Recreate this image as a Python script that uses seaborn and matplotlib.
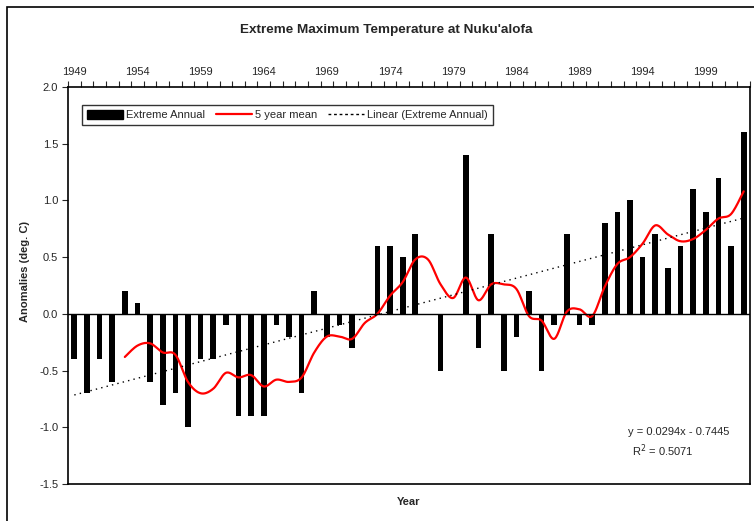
import numpy as np
import pandas as pd
import matplotlib
matplotlib.use('Agg')
import matplotlib.pyplot as plt
from matplotlib.patches import Patch, Rectangle
from matplotlib.lines import Line2D
import seaborn as sns

# du lieu doc tu bieu do
years = list(range(1949, 2003))
anomalies = [-0.4, -0.7, -0.4, -0.6, 0.2, 0.1, -0.6, -0.8, -0.7, -1.0,
             -0.4, -0.4, -0.1, -0.9, -0.9, -0.9, -0.1, -0.2, -0.7, 0.2,
             -0.2, -0.1, -0.3, 0.0, 0.6, 0.6, 0.5, 0.7, 0.0, -0.5,
             0.0, 1.4, -0.3, 0.7, -0.5, -0.2, 0.2, -0.5, -0.1, 0.7,
             -0.1, -0.1, 0.8, 0.9, 1.0, 0.5, 0.7, 0.4, 0.6, 1.1,
             0.9, 1.2, 0.6, 1.6]
label_years = years[::5]
y_ticks = [-1.5, -1.0, -0.5, 0.0, 0.5, 1.0, 1.5, 2.0]

df = pd.DataFrame({'Year': years, 'Anomaly': anomalies})
# trung binh truot 5 nam (kieu Excel, tinh tu nam thu 5)
df['Mean5'] = df['Anomaly'].rolling(5).mean()
slope, icpt = np.polyfit(df['Year'], df['Anomaly'], 1)


def smooth(x, y, n=20):
    # duong cong Bezier giong "smoothed line" cua Excel
    x = np.asarray(x, float)
    y = np.asarray(y, float)
    px = np.concatenate([[x[0]], x, [x[-1]]])
    py = np.concatenate([[y[0]], y, [y[-1]]])
    xs, ys = [], []
    t = np.linspace(0, 1, n)
    for i in range(1, len(px) - 2):
        p0 = np.array([px[i], py[i]])
        p3 = np.array([px[i + 1], py[i + 1]])
        p1 = p0 + (np.array([px[i + 1], py[i + 1]]) - np.array([px[i - 1], py[i - 1]])) / 6
        p2 = p3 - (np.array([px[i + 2], py[i + 2]]) - np.array([px[i], py[i]])) / 6
        b = ((1 - t) ** 3)[:, None] * p0 + (3 * (1 - t) ** 2 * t)[:, None] * p1 \
            + (3 * (1 - t) * t ** 2)[:, None] * p2 + (t ** 3)[:, None] * p3
        xs.extend(b[:, 0])
        ys.extend(b[:, 1])
    return np.array(xs), np.array(ys)


sns.set_style('white')
plt.rcParams['font.family'] = ['Liberation Sans', 'DejaVu Sans']

fig = plt.figure(figsize=(7.54, 5.21), dpi=100)
ax = fig.add_axes([68 / 754, 1 - 484 / 521, 682 / 754, 397 / 521])

sns.barplot(data=df, x='Year', y='Anomaly', native_scale=True, width=0.45,
            color='black', edgecolor='black', linewidth=0, saturation=1, ax=ax)

m = df.dropna()
sx, sy = smooth(m['Year'], m['Mean5'])
sns.lineplot(x=sx, y=sy, sort=False, estimator=None, color='#ff0000', linewidth=1.6, ax=ax)

tx = np.array([years[0], years[-1]], float)
sns.lineplot(x=tx, y=slope * tx + icpt, color='black', linewidth=1,
             linestyle=(0, (1, 3)), ax=ax)

ax.axhline(0, color='black', linewidth=1)

ax.set_xlim(years[0] - 0.5, years[-1] + 0.5)
ax.set_ylim(-1.5, 2.0)
ax.set_xlabel('')
ax.set_ylabel('')

ax.xaxis.tick_top()
ax.set_xticks(label_years)
ax.set_xticklabels([str(y) for y in label_years], fontsize=8)
ax.set_xticks(np.arange(years[0] - 0.5, years[-1] + 1), minor=True)
ax.tick_params(axis='x', which='major', length=0, pad=7)
ax.tick_params(axis='x', which='minor', length=4, width=0.8, direction='out', top=True, bottom=False)
ax.set_yticks(y_ticks)
ax.set_yticklabels([f'{v:.1f}' for v in y_ticks], fontsize=8)
ax.tick_params(axis='y', length=4, width=0.8, direction='out', left=True, pad=3)

for s in ax.spines.values():
    s.set_color('black')
    s.set_linewidth(1.2)

handles = [Patch(facecolor='black', edgecolor='black'),
           Line2D([], [], color='#ff0000', linewidth=1.6),
           Line2D([], [], color='black', linewidth=1, linestyle=(0, (2, 2)))]
labels = ['Extreme Annual', '5 year mean', 'Linear (Extreme Annual)']
leg = ax.legend(handles, labels, loc='upper left', ncol=3, fontsize=8,
                bbox_to_anchor=(14 / 682, 1 - 18 / 397), borderaxespad=0,
                frameon=True, fancybox=False, edgecolor='black',
                handlelength=3.2, handleheight=0.9, columnspacing=1.0,
                handletextpad=0.3, borderpad=0.45)
leg.get_frame().set_linewidth(1)

ax.text(0.97, 0.13, 'y = 0.0294x - 0.7445', transform=ax.transAxes,
        ha='right', va='center', fontsize=8)
ax.text(0.918, 0.085, 'R$^2$ = 0.5071', transform=ax.transAxes,
        ha='right', va='center', fontsize=8)

fig.text(386 / 754, 1 - 30 / 521, "Extreme Maximum Temperature at Nuku'alofa",
         ha='center', va='center', fontsize=9.7, fontweight='bold')
fig.text(409 / 754, 1 - 502 / 521, 'Year', ha='center', va='center',
         fontsize=8, fontweight='bold')
fig.text(25 / 754, 1 - 272 / 521, 'Anomalies (deg. C)', ha='center', va='center',
         rotation=90, fontsize=8, fontweight='bold')

fig.add_artist(Rectangle((6.5 / 754, -0.1), 1.2, 1 - 6.5 / 521 + 0.1,
                         transform=fig.transFigure, fill=False,
                         edgecolor='black', linewidth=1.2))

fig.savefig('out.png', dpi=100)
